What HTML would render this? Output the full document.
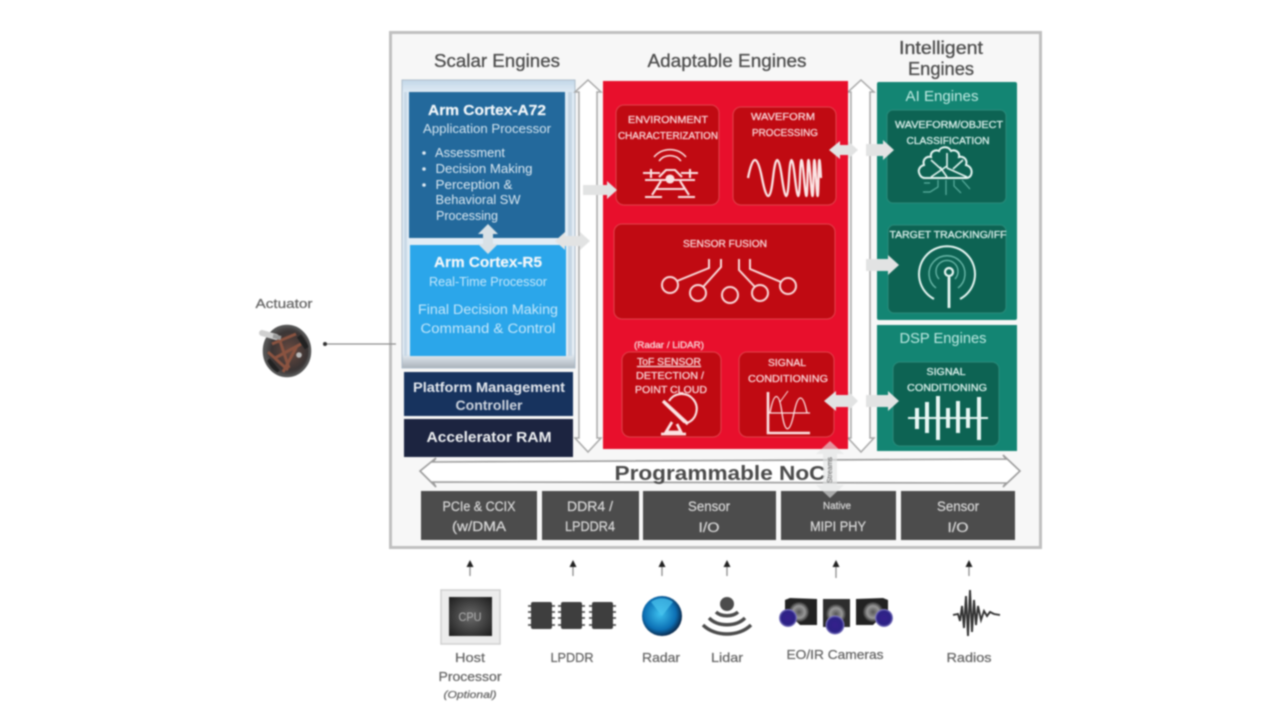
<!DOCTYPE html>
<html><head><meta charset="utf-8"><style>
html,body{margin:0;padding:0;background:#fff;width:1280px;height:721px;overflow:hidden}
svg{display:block;filter:blur(.8px)}
text{font-family:"Liberation Sans",sans-serif;text-anchor:middle;stroke:currentColor;stroke-width:0}
.t{stroke:#4d4d4d;stroke-width:.3}
.w{fill:#f3f7fa;stroke:#f3f7fa;stroke-width:.2}
.r text{fill:#f9d6d8;stroke:#f9d6d8;stroke-width:.28}
.g text{fill:#dcf1ec;stroke:#dcf1ec;stroke-width:.28}
.b text{fill:#d8d8d8;stroke:#d8d8d8;stroke-width:.22}
.l{fill:#666;stroke:#666;stroke-width:.25}
.ic{fill:none;stroke:#fbe2e2;stroke-width:2.1}
.ig{fill:none;stroke:#e6f6f2;stroke-width:2}
</style></head><body>
<svg width="1280" height="721" viewBox="0 0 1280 721" xmlns="http://www.w3.org/2000/svg">
<defs>
<linearGradient id="pan" x1="0" y1="0" x2="0" y2="1"><stop offset="0" stop-color="#c3d7e8"/><stop offset=".045" stop-color="#dfebf5"/><stop offset=".95" stop-color="#e6eef5"/><stop offset="1" stop-color="#aab2ba"/></linearGradient>
<radialGradient id="rad" cx=".45" cy=".45" r=".55"><stop offset="0" stop-color="#3cc0ee"/><stop offset=".72" stop-color="#0c6fb4"/><stop offset="1" stop-color="#0a2c50"/></radialGradient>
<radialGradient id="cpu" cx=".5" cy=".5" r=".7"><stop offset="0" stop-color="#6a6a6a"/><stop offset="1" stop-color="#1c1c1c"/></radialGradient>
<radialGradient id="lens" cx=".5" cy=".5" r=".5"><stop offset="0" stop-color="#35208c"/><stop offset=".75" stop-color="#2c2285"/><stop offset="1" stop-color="#8a86c8"/></radialGradient>
<radialGradient id="bar" cx=".5" cy=".5" r=".5"><stop offset="0" stop-color="#555"/><stop offset=".6" stop-color="#999"/><stop offset="1" stop-color="#333"/></radialGradient>
<radialGradient id="mot" cx=".55" cy=".5" r=".55"><stop offset="0" stop-color="#6a4a40"/><stop offset=".7" stop-color="#3a3434"/><stop offset="1" stop-color="#5a5a5a"/></radialGradient>
</defs>
<rect width="1280" height="721" fill="#fff"/>
<rect x="390.5" y="32.5" width="650" height="515" fill="#f7f7f7" stroke="#c0c0c0" stroke-width="3"/>

<g fill="#4d4d4d" font-size="18">
<text class="t" x="497" y="67" textLength="126" lengthAdjust="spacingAndGlyphs">Scalar Engines</text>
<text class="t" x="727" y="67" textLength="159" lengthAdjust="spacingAndGlyphs">Adaptable Engines</text>
<text class="t" x="941" y="54" textLength="84" lengthAdjust="spacingAndGlyphs">Intelligent</text>
<text class="t" x="941" y="75" textLength="66" lengthAdjust="spacingAndGlyphs">Engines</text>
</g>

<!-- Left panel -->
<rect x="402" y="80" width="173" height="288" fill="url(#pan)" stroke="#aebdca"/>
<rect x="404" y="92" width="3" height="264" fill="#c8d8e6"/>
<rect x="568" y="92" width="4" height="264" fill="#c6d6e4"/>
<rect x="409" y="92" width="156" height="146" fill="#23699c"/>
<rect x="410" y="245" width="156" height="111" fill="#2ba6ea"/>
<text x="487" y="115" font-size="14.5" font-weight="bold" class="w" textLength="118" lengthAdjust="spacingAndGlyphs">Arm Cortex-A72</text>
<text x="487" y="133" font-size="12.5" fill="#d3e4ef" textLength="128" lengthAdjust="spacingAndGlyphs">Application Processor</text>
<g font-size="12.5" fill="#dbe8f1">
<circle cx="424" cy="153" r="1.8"/><circle cx="424" cy="169" r="1.8"/><circle cx="424" cy="185" r="1.8"/>
<text x="470" y="157" textLength="70" lengthAdjust="spacingAndGlyphs">Assessment</text>
<text x="484" y="173" textLength="97" lengthAdjust="spacingAndGlyphs">Decision Making</text>
<text x="474" y="189" textLength="77" lengthAdjust="spacingAndGlyphs">Perception &amp;</text>
<text x="478" y="204" textLength="85" lengthAdjust="spacingAndGlyphs">Behavioral SW</text>
<text x="467" y="220" textLength="62" lengthAdjust="spacingAndGlyphs">Processing</text>
</g>
<text x="488" y="267" font-size="14.5" font-weight="bold" class="w" textLength="108" lengthAdjust="spacingAndGlyphs">Arm Cortex-R5</text>
<text x="488" y="286" font-size="12.5" fill="#c4e7fb" textLength="118" lengthAdjust="spacingAndGlyphs">Real-Time Processor</text>
<text x="488" y="314" font-size="13.5" fill="#c4e7fb" textLength="140" lengthAdjust="spacingAndGlyphs">Final Decision Making</text>
<text x="488" y="333" font-size="13.5" fill="#c4e7fb" textLength="135" lengthAdjust="spacingAndGlyphs">Command &amp; Control</text>

<rect x="404" y="372" width="169" height="44" fill="#17335e"/>
<rect x="404" y="419" width="169" height="38" fill="#1c2440"/>
<text x="489" y="392" font-size="13.5" font-weight="bold" fill="#e4e8ee" textLength="152" lengthAdjust="spacingAndGlyphs">Platform Management</text>
<text x="489" y="410" font-size="13.5" font-weight="bold" fill="#cdd4de" textLength="67" lengthAdjust="spacingAndGlyphs">Controller</text>
<text x="489" y="442" font-size="14.5" font-weight="bold" fill="#eef0f2" textLength="125" lengthAdjust="spacingAndGlyphs">Accelerator RAM</text>

<!-- vertical white arrows -->
<polygon points="588,80 601,92 597,92 597,438 601,438 588,452 575,438 579,438 579,92 575,92" fill="#fff" stroke="#a8a8a8" stroke-width="1.5"/>
<polygon points="861,80 874,92 870,92 870,438 874,438 861,452 848,438 851,438 851,92 848,92" fill="#fff" stroke="#a8a8a8" stroke-width="1.5"/>

<!-- Red -->
<rect x="603" y="81" width="245" height="368" fill="#e80f2c"/>
<g fill="#c00a12" stroke="#e2424c" stroke-width="1">
<rect x="616" y="105" width="103" height="100" rx="8"/>
<rect x="733" y="107" width="103" height="98" rx="8"/>
<rect x="614" y="224" width="221" height="95" rx="8"/>
<rect x="622" y="352" width="99" height="85" rx="8"/>
<rect x="739" y="352" width="95" height="85" rx="8"/>
</g>
<g font-size="10.5" class="r">
<text x="668" y="123" textLength="80" lengthAdjust="spacingAndGlyphs">ENVIRONMENT</text>
<text x="668" y="139" textLength="100" lengthAdjust="spacingAndGlyphs">CHARACTERIZATION</text>
<text x="783" y="120" textLength="64" lengthAdjust="spacingAndGlyphs">WAVEFORM</text>
<text x="785" y="136" textLength="66" lengthAdjust="spacingAndGlyphs">PROCESSING</text>
<text x="725" y="247" textLength="84" lengthAdjust="spacingAndGlyphs">SENSOR FUSION</text>
<text x="669" y="348" font-size="9" textLength="70" lengthAdjust="spacingAndGlyphs">(Radar / LiDAR)</text>
<text x="669" y="365" textLength="64" lengthAdjust="spacingAndGlyphs" text-decoration="underline">ToF SENSOR</text>
<text x="670" y="379" textLength="68" lengthAdjust="spacingAndGlyphs">DETECTION /</text>
<text x="671" y="393" textLength="72" lengthAdjust="spacingAndGlyphs">POINT CLOUD</text>
<text x="787" y="366" textLength="38" lengthAdjust="spacingAndGlyphs">SIGNAL</text>
<text x="788" y="382" textLength="80" lengthAdjust="spacingAndGlyphs">CONDITIONING</text>
</g>
<!-- drone -->
<g class="ic">
<path d="M654 157a21 21 0 0 1 32 0M659 161a14 14 0 0 1 22 0" stroke-width="1.5"/>
<path d="M643 173h17M681 173h17M651 169v9M690 169v9M645 180h50M659 177l7-7h9l7 7M661 181l-9 14M680 181l9 14M645 197h17M678 197h17M656 189h28"/>
<circle cx="670" cy="179" r="3.5" fill="#fbe2e2"/>
</g>
<!-- waveform -->
<path d="M748 178q7-36 14 0t11 0 9 0 7 0 6 0 5 0 4 0 3.500 0 3 0 3 0 2.500 0 2.500 0 2.500 0" fill="none" stroke="#fbe4e4" stroke-width="2.3"/>
<!-- fusion -->
<g fill="none" stroke="#f9dada" stroke-width="2">
<circle cx="670" cy="285" r="8"/><circle cx="698" cy="293" r="8"/><circle cx="730" cy="295" r="8"/><circle cx="760" cy="293" r="8"/><circle cx="788" cy="286" r="8"/>
<path d="M677 281l32-13v-9M703 287l18-20v-8M755 287l-16-17v-11M781 282l-31-13v-10"/>
</g>
<!-- dish -->
<g class="ic" stroke-width="2">
<path d="M669 401a15 15 0 1 1 18 22"/>
<path d="M665 403l20 19M663 401l25 23" stroke-width="3.4"/>
<path d="M672 422l-6 10h15l-4-8M661 434h25" stroke-width="2.8"/>
</g>
<!-- signal chart -->
<g class="ic">
<path d="M768 392v41h42" stroke-width="2.6"/>
<path d="M768 413h42" stroke-width="1.2"/>
<path d="M770 413c4-22 9-22 12 0s8 20 12 0 9-20 13 0" stroke-width="1.3"/>
<path d="M780 402l8-11" stroke-width="1"/>
</g>

<!-- Green -->
<rect x="877" y="82" width="140" height="238" rx="2" fill="#138573"/>
<rect x="877" y="325" width="140" height="126" fill="#138573"/>
<rect x="887" y="110" width="119" height="93" rx="6" fill="#0d6353" stroke="#2a8c7b"/>
<rect x="888" y="225" width="118" height="88" rx="6" fill="#0d6353" stroke="#2a8c7b"/>
<rect x="893" y="362" width="106" height="84" rx="7" fill="#0d6353" stroke="#2a8c7b"/>
<text x="942" y="101" font-size="15" fill="#c0eae2" stroke="#c0eae2" stroke-width=".2" textLength="73" lengthAdjust="spacingAndGlyphs">AI Engines</text>
<text x="943" y="343" font-size="15" fill="#bde8e0" stroke="#bde8e0" stroke-width=".2" textLength="87" lengthAdjust="spacingAndGlyphs">DSP Engines</text>
<g font-size="10.5" class="g">
<text x="949" y="128" textLength="108" lengthAdjust="spacingAndGlyphs">WAVEFORM/OBJECT</text>
<text x="948" y="144" textLength="83" lengthAdjust="spacingAndGlyphs">CLASSIFICATION</text>
<text x="948" y="238" textLength="117" lengthAdjust="spacingAndGlyphs">TARGET TRACKING/IFF</text>
<text x="946" y="375" textLength="39" lengthAdjust="spacingAndGlyphs">SIGNAL</text>
<text x="947" y="391" textLength="80" lengthAdjust="spacingAndGlyphs">CONDITIONING</text>
</g>
<!-- brain -->
<g class="ig">
<path d="M920 175c-3-5 0-9 4-10-2-6 3-9 7-8-1-5 4-8 8-6 1-4 9-6 12 0 4-2 9 1 8 6 4-1 9 2 7 8 4 1 7 5 5 10-1 2-3 3-5 3h-41c-2 0-4-1-5-3z"/>
<path d="M931 177l16-11M947 177l-7-10M947 168l20 9M947 153v15M931 160l10 9M963 160l-10 9" stroke-width="1.6"/>
<path d="M946 180v15M938 180v7l-8 5h-7M954 180v6l7 7M962 180l8 9M930 183h-6" stroke-width="1.2" stroke="#5cb0a0"/>
</g>
<!-- target -->
<g class="ig">
<path d="M934 299a28 28 0 1 1 26 0"/>
<path d="M936 288a18 18 0 1 1 22 0" stroke-width="1.4" stroke="#6bb9aa"/>
<path d="M939 279a11 11 0 1 1 16 0" stroke-width="1.3" stroke="#6bb9aa"/>
<circle cx="949" cy="272" r="4" stroke-width="2.2"/>
<path d="M949 277v31" stroke-width="2.8"/>
</g>
<!-- dsp wave -->
<g stroke="#e7f6f3" stroke-width="4">
<path d="M908 418h80" stroke-width="2"/>
<path d="M917 408v21M927 402v31M938 396v44M948 408v20M958 401v32M968 408v20M979 397v43"/>
</g>

<!-- NoC -->
<polygon points="420,471 436,458 433,462 1006,459 1003,455 1020,471 1003,487 1006,483 433,482 436,487" fill="#fff" stroke="#9c9c9c" stroke-width="1.6"/>
<text x="720" y="480" font-size="20.5" font-weight="bold" fill="#4b4b4b" textLength="211" lengthAdjust="spacingAndGlyphs">Programmable NoC</text>

<!-- bottom bars -->
<g fill="#4c4c4c">
<rect x="421" y="491" width="116" height="49"/>
<rect x="542" y="491" width="97" height="49"/>
<rect x="643" y="491" width="133" height="49"/>
<rect x="781" y="491" width="115" height="49"/>
<rect x="901" y="491" width="114" height="49"/>
</g>
<g font-size="13.5" class="b">
<text x="479" y="511" textLength="73" lengthAdjust="spacingAndGlyphs">PCIe &amp; CCIX</text>
<text x="479" y="531" textLength="54" lengthAdjust="spacingAndGlyphs">(w/DMA</text>
<text x="590" y="511" textLength="46" lengthAdjust="spacingAndGlyphs">DDR4 /</text>
<text x="590" y="531" textLength="50" lengthAdjust="spacingAndGlyphs">LPDDR4</text>
<text x="709" y="511" textLength="42" lengthAdjust="spacingAndGlyphs">Sensor</text>
<text x="709" y="532" textLength="21" lengthAdjust="spacingAndGlyphs">I/O</text>
<text x="837" y="509" font-size="10" textLength="28" lengthAdjust="spacingAndGlyphs">Native</text>
<text x="838" y="531" textLength="56" lengthAdjust="spacingAndGlyphs">MIPI PHY</text>
<text x="958" y="511" textLength="42" lengthAdjust="spacingAndGlyphs">Sensor</text>
<text x="958" y="532" textLength="21" lengthAdjust="spacingAndGlyphs">I/O</text>
</g>

<!-- gray connector arrows -->
<g fill="#e2e3e3">
<polygon points="583,185 607,185 607,181 617,190 607,199 607,195 583,195"/>
<polygon points="555,241 565,232 565,236 580,236 580,232 590,241 580,250 580,246 565,246 565,250"/>
<polygon points="488,224 498,234 493,234 493,244 498,244 488,254 478,244 483,244 483,234 478,234" fill="#d8e1e6"/>
<polygon points="829,150 840,141 840,145 848,145 848,141 858,150 848,159 848,155 840,155 840,159"/>
<polygon points="866,144 883,144 883,140 894,150 883,160 883,156 866,156"/>
<polygon points="866,259 888,259 888,255 899,265 888,275 888,271 866,271"/>
<polygon points="824,401 836,391 836,395 848,395 848,391 858,401 848,411 848,407 836,407 836,411"/>
<polygon points="866,395 888,395 888,391 899,401 888,411 888,407 866,407"/>
<polygon points="830,441 844,454 837,454 837,485 844,485 830,498 816,485 823,485 823,454 816,454" opacity=".62"/>
</g>
<text transform="translate(832,470) rotate(-90)" font-size="7" fill="#555">Streams</text>

<!-- small connectors -->
<g stroke="#8c8c8c" stroke-width="1.3" fill="#222">
<path d="M396 344H325"/>
<path d="M470 576v-12M573 576v-12M662 576v-12M727 576v-12M836 578v-14M969 576v-12"/>
</g>
<circle cx="325" cy="344" r="2" fill="#333"/>
<g fill="#222">
<polygon points="470,560 473.500,567 466.500,567"/><polygon points="573,560 576.500,567 569.500,567"/><polygon points="662,560 665.500,567 658.500,567"/><polygon points="727,560 730.500,567 723.500,567"/><polygon points="836,560 839.500,567 832.500,567"/><polygon points="969,560 972.500,567 965.500,567"/>
</g>

<!-- actuator -->
<text x="284" y="308" font-size="12.5" class="l" textLength="57" lengthAdjust="spacingAndGlyphs">Actuator</text>
<ellipse cx="287" cy="351" rx="23" ry="25" fill="url(#mot)"/>
<path d="M272 344l24-10M275 358l26-14M283 372l14-26M279 338l10 30M268 352l20 18" stroke="#8a5340" stroke-width="3" fill="none"/>
<path d="M268 360l10 12M299 336l8 12" stroke="#222" stroke-width="5" fill="none"/>
<ellipse cx="287" cy="351" rx="23" ry="25" fill="none" stroke="#555" stroke-width="2.5"/>
<path d="M262 333l14 4" stroke="#d0d0d0" stroke-width="6" stroke-linecap="round"/>
<path d="M273 336l8 2" stroke="#999" stroke-width="4"/>
<circle cx="299" cy="355" r="2.8" fill="#bbb"/>

<!-- host cpu -->
<rect x="441" y="590" width="59" height="54" fill="#ececec" stroke="#d0d0d0" stroke-width="1.5"/>
<rect x="449" y="597" width="43" height="39" fill="url(#cpu)"/>
<text x="470" y="621" font-size="12" fill="#b0b0b0" stroke="#b0b0b0" stroke-width=".2" textLength="23" lengthAdjust="spacingAndGlyphs">CPU</text>
<text x="470" y="662" font-size="12.5" class="l" textLength="30" lengthAdjust="spacingAndGlyphs">Host</text>
<text x="470" y="681" font-size="12.5" class="l" textLength="63" lengthAdjust="spacingAndGlyphs">Processor</text>
<text x="470" y="698" font-size="10.5" font-style="italic" class="l" textLength="53" lengthAdjust="spacingAndGlyphs">(Optional)</text>

<!-- LPDDR -->
<g stroke="#555" stroke-width="1.8">
<path d="M528 606h27M528 612h27M528 618h27M528 625h27M558 606h27M558 612h27M558 618h27M558 625h27M589 606h27M589 612h27M589 618h27M589 625h27"/>
</g>
<g fill="#3e3e3e"><rect x="531" y="602" width="21" height="27" rx="2"/><rect x="561" y="602" width="21" height="27" rx="2"/><rect x="592" y="602" width="21" height="27" rx="2"/></g>
<text x="572" y="662" font-size="12.5" class="l" textLength="43" lengthAdjust="spacingAndGlyphs">LPDDR</text>

<!-- radar -->
<circle cx="662" cy="616" r="20" fill="url(#rad)"/>
<path d="M662 616l11-14a18 18 0 0 0-22 0z" fill="#4cc4ee" opacity=".7"/>
<text x="661" y="662" font-size="12.5" class="l" textLength="38" lengthAdjust="spacingAndGlyphs">Radar</text>

<!-- lidar -->
<circle cx="727" cy="604" r="7" fill="#4c4c4c"/>
<g fill="none" stroke="#4c4c4c" stroke-width="3.4">
<path d="M716 612c5 5 17 5 22 0M709 618c9 9 27 9 36 0M703 625c12 12 36 12 48 0"/>
</g>
<text x="727" y="662" font-size="12.5" class="l" textLength="32" lengthAdjust="spacingAndGlyphs">Lidar</text>

<!-- cameras -->
<g>
<polygon points="785,600 790,598 817,599 817,625 800,625 785,610" fill="#222"/>
<circle cx="799" cy="612" r="10" fill="url(#bar)"/>
<circle cx="788" cy="618" r="9" fill="url(#lens)"/>
<rect x="823" y="599" width="27" height="28" fill="#2d2d2d"/>
<circle cx="836" cy="614" r="10" fill="url(#bar)"/>
<circle cx="835" cy="625" r="9.500" fill="url(#lens)"/>
<polygon points="856,599 883,598 888,600 888,610 873,625 856,625" fill="#222"/>
<circle cx="873" cy="612" r="10" fill="url(#bar)"/>
<circle cx="884" cy="618" r="9" fill="url(#lens)"/>
</g>
<text x="835" y="659" font-size="12.5" class="l" textLength="97" lengthAdjust="spacingAndGlyphs">EO/IR Cameras</text>

<!-- radios -->
<path d="M953 615L958 614 960 621 962 606 964 628 966 596 968 636 970 590 972 632 974 600 976 625 978 606 981 620 984 611 987 616 990 612 994 614 1000 615" fill="none" stroke="#333" stroke-width="1.9"/>
<text x="969" y="662" font-size="12.5" class="l" textLength="45" lengthAdjust="spacingAndGlyphs">Radios</text>
</svg>
</body></html>
